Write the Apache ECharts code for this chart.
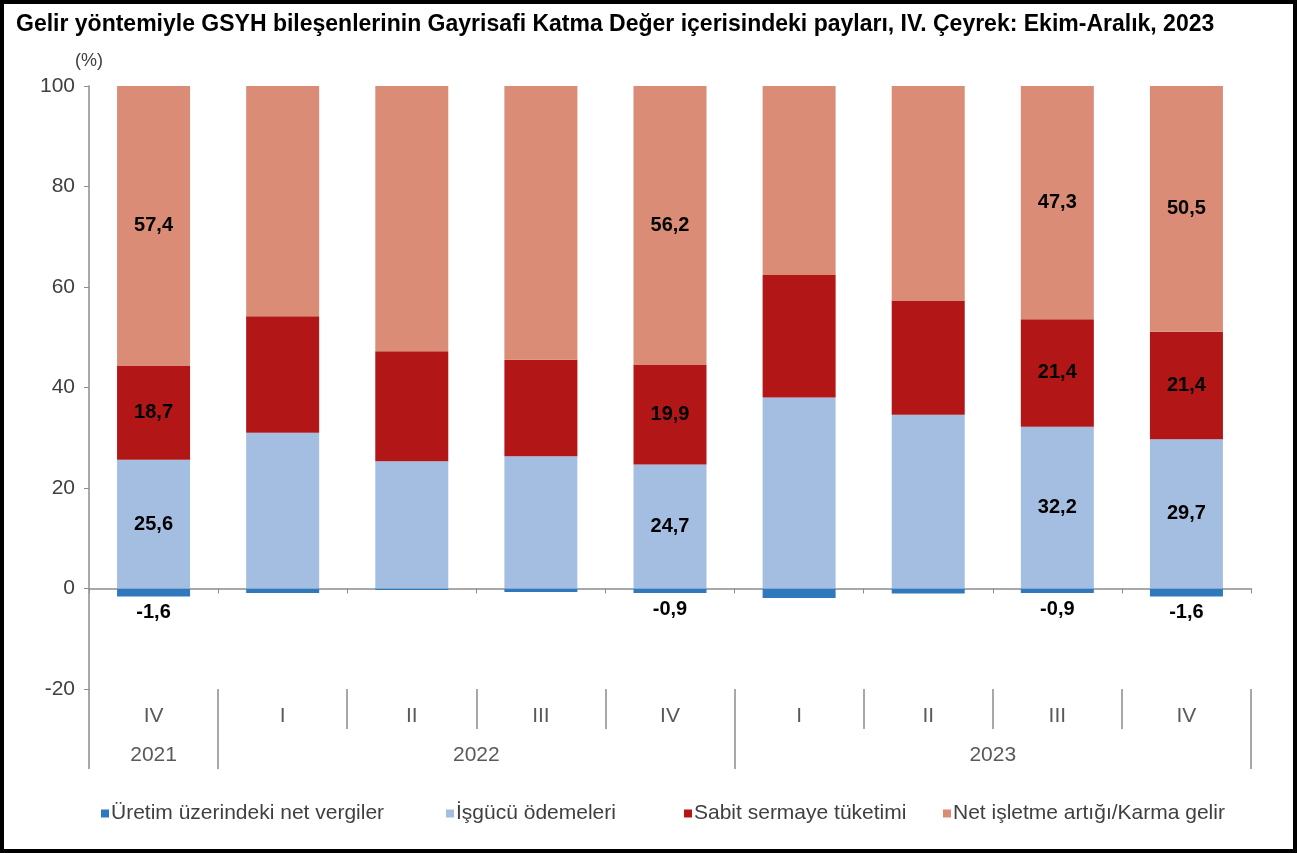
<!DOCTYPE html>
<html>
<head>
<meta charset="utf-8">
<script src="https://cdn.jsdelivr.net/npm/echarts@6/dist/echarts.min.js"></script>
<style>
  html, body { margin: 0; padding: 0; background: #fff; }
  #chart { width: 1297px; height: 854px; }
</style>
</head>
<body>
<div id="chart"></div>
<script>
// kategoriler (çeyrekler) ve yıllar
const quarters = ["IV", "I", "II", "III", "IV", "I", "II", "III", "IV"];
const years = ["2021", "2022", "2023"];
const yearBounds = [0, 1, 5, 9];     // yıl gruplarının sınırları (çeyrek indeksleri)
const yearCenters = [0.5, 3, 7];

// seriler (%)
const netVergiler = [-1.6, -0.9, -0.3, -0.7, -0.9, -1.9, -1.0, -0.9, -1.6];
const isgucu = [25.6, 31.0, 25.3, 26.3, 24.7, 38.0, 34.6, 32.2, 29.7];
const sabitSermaye = [18.7, 23.2, 21.9, 19.2, 19.9, 24.4, 22.7, 21.4, 21.4];
const netIsletme = [57.4, 46.7, 53.1, 55.2, 56.2, 39.5, 43.7, 47.3, 50.5];

const seriesNames = [
  "Üretim üzerindeki net vergiler",
  "İşgücü ödemeleri",
  "Sabit sermaye tüketimi",
  "Net işletme artığı/Karma gelir"
];
const legendLeft = [96, 441, 679, 938];

const yTicks = [-20, 0, 20, 40, 60, 80, 100];
const labeled = [0, 4, 7, 8];   // etiket gösterilen sütunlar

const FONT = "'Liberation Sans', Arial, sans-serif";
const GRID = { left: 89, right: 46, top: 86, bottom: 165 };

function fmt(p) {
  if (labeled.indexOf(p.dataIndex) < 0) return "";
  return p.value.toFixed(1).replace(".", ",");
}
const lbl = (pos) => ({
  show: true, position: pos, formatter: fmt, distance: 6,
  color: "#000", fontFamily: FONT, fontSize: 20, fontWeight: "bold"
});

// her lejant öğesi ayrı konumlanıyor (orijinaldeki düzensiz aralıklar)
const legends = seriesNames.map((n, i) => ({
  data: [n], top: 798, left: legendLeft[i],
  icon: "rect", itemWidth: 8, itemHeight: 8,
  textStyle: { fontFamily: FONT, fontSize: 21, color: "#404040", padding: [0, 0, 0, -3] }
}));

const chart = echarts.init(document.getElementById("chart"));
chart.setOption({
  animation: false,
  backgroundColor: "#fff",
  title: {
    text: "Gelir yöntemiyle GSYH bileşenlerinin Gayrisafi Katma Değer içerisindeki payları, IV. Çeyrek: Ekim-Aralık, 2023",
    left: 11, top: 8,
    textStyle: { fontFamily: FONT, fontSize: 23, fontWeight: "bold", color: "#000" }
  },
  legend: legends,
  graphic: [{
    type: "rect", z: 100, silent: true,
    shape: { x: 2, y: 2, width: 1293, height: 849 },
    style: { fill: "none", stroke: "#000", lineWidth: 4 }
  }],
  grid: [GRID, GRID, GRID],
  xAxis: [
    {
      gridIndex: 0, type: "category", data: quarters, position: "bottom",
      axisLine: { onZero: true, lineStyle: { color: "#8c8c8c", width: 1.5 } },
      axisTick: { show: true, length: 5, lineStyle: { color: "#8c8c8c" } },
      axisLabel: { show: false }
    },
    {
      gridIndex: 1, type: "category", data: quarters, position: "bottom",
      axisLine: { show: false, onZero: false },
      axisTick: { show: true, interval: 0, length: 40, lineStyle: { color: "#8c8c8c", width: 1.5 } },
      axisLabel: { interval: 0, margin: 17, fontFamily: FONT, fontSize: 21, color: "#595959" }
    },
    {
      gridIndex: 2, type: "value", min: 0, max: 9, position: "bottom",
      axisLine: { show: false, onZero: false },
      splitLine: { show: false },
      axisTick: { show: true, length: 80, customValues: yearBounds, lineStyle: { color: "#8c8c8c", width: 1.5 } },
      axisLabel: {
        margin: 56, customValues: yearCenters, fontFamily: FONT, fontSize: 21, color: "#595959",
        formatter: (v) => years[yearCenters.indexOf(v)]
      }
    }
  ],
  yAxis: [
    {
      gridIndex: 0, type: "value", min: yTicks[0], max: yTicks[yTicks.length - 1], interval: 20,
      name: "(%)", nameLocation: "end", nameGap: 16,
      nameTextStyle: { fontFamily: FONT, fontSize: 18, color: "#404040", align: "center" },
      axisLine: { show: true, lineStyle: { color: "#8c8c8c", width: 1.5 } },
      axisTick: { show: true, length: 5, lineStyle: { color: "#8c8c8c" } },
      axisLabel: { margin: 14, fontFamily: FONT, fontSize: 21, color: "#404040" },
      splitLine: { show: false }
    },
    { gridIndex: 1, type: "value", min: -20, max: 100, show: false },
    { gridIndex: 2, type: "value", min: -20, max: 100, show: false }
  ],
  series: [
    {
      name: seriesNames[0], type: "bar", stack: "t",
      xAxisIndex: 0, yAxisIndex: 0, barWidth: 73,
      itemStyle: { color: "#2E78BE" }, label: lbl("bottom"), data: netVergiler
    },
    {
      name: seriesNames[1], type: "bar", stack: "t",
      xAxisIndex: 0, yAxisIndex: 0, barWidth: 73,
      itemStyle: { color: "#A4BEE2" }, label: lbl("inside"), data: isgucu
    },
    {
      name: seriesNames[2], type: "bar", stack: "t",
      xAxisIndex: 0, yAxisIndex: 0, barWidth: 73,
      itemStyle: { color: "#B21616" }, label: lbl("inside"), data: sabitSermaye
    },
    {
      name: seriesNames[3], type: "bar", stack: "t",
      xAxisIndex: 0, yAxisIndex: 0, barWidth: 73, clip: true,
      itemStyle: { color: "#DA8C76" }, label: lbl("inside"), data: netIsletme
    }
  ]
});
</script>
</body>
</html>
